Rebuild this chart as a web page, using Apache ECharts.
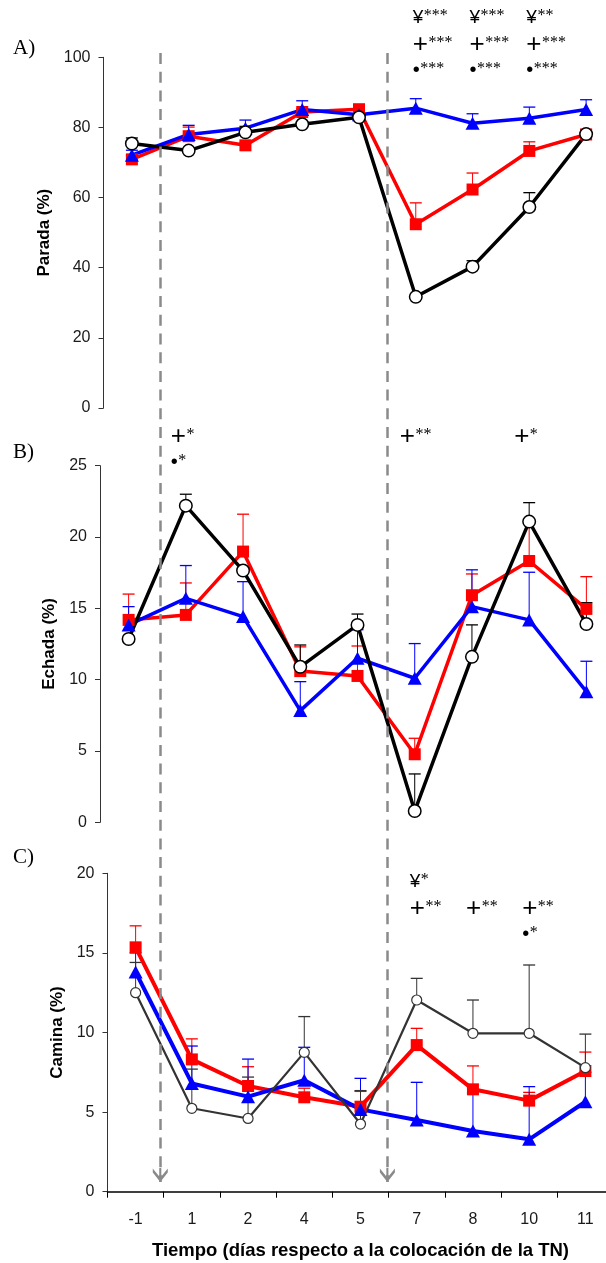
<!DOCTYPE html>
<html>
<head>
<meta charset="utf-8">
<script src="https://cdn.jsdelivr.net/npm/echarts@6/dist/echarts.min.js"></script>
<style>
html, body {margin: 0; padding: 0; background: #fff; overflow: hidden;}
#grafico {width: 640px; height: 1263px;}
</style>
</head>
<body>
<div id="grafico"></div>
<script>
var dias = ['-1', '1', '2', '4', '5', '7', '8', '10', '11'];
// colocacion de la TN: entre estos dias
var colocacionTN = [['-1', '1'], ['5', '7']];

// A) Parada (%)
var paradaNegro = [75.4, 73.4, 78.6, 80.9, 82.9, 31.7, 40.3, 57.3, 78.1];
var paradaNegroSup = [77.0, 73.4, 80.3, 80.9, 82.9, 31.7, 42.0, 61.4, 79.0];
var paradaRojo = [70.9, 77.5, 74.9, 84.4, 85.2, 52.4, 62.3, 73.3, 78.0];
var paradaRojoSup = [72.0, 80.1, 75.8, 85.3, 86.0, 58.5, 67.0, 75.9, 79.4];
var paradaAzul = [72.1, 78.0, 79.8, 85.1, 83.6, 85.5, 81.2, 82.6, 85.1];
var paradaAzulSup = [73.5, 80.6, 82.1, 87.6, 84.2, 88.2, 83.9, 85.8, 87.9];

// B) Echada (%)
var echadaNegro = [12.85, 22.2, 17.65, 10.9, 13.84, 0.79, 11.6, 21.08, 13.9];
var echadaNegroSup = [12.85, 23.0, 17.65, 12.43, 14.6, 3.39, 13.84, 22.41, 15.4];
var echadaRojo = [14.19, 14.54, 18.98, 10.6, 10.26, 4.77, 15.92, 18.32, 14.96];
var echadaRojoSup = [16.0, 16.78, 21.6, 12.3, 12.36, 5.89, 17.41, 21.0, 17.22];
var echadaAzul = [13.84, 15.7, 14.42, 7.83, 11.5, 10.1, 15.12, 14.19, 9.16];
var echadaAzulSup = [15.12, 18.0, 16.87, 9.86, 13.5, 12.53, 17.7, 17.53, 11.29];

// C) Camina (%)
var caminaNegro = [12.5, 5.24, 4.6, 8.75, 4.25, 12.04, 9.95, 9.95, 7.79];
var caminaNegroSup = [14.4, 7.7, 7.2, 11.0, 6.35, 13.4, 12.04, 14.24, 9.9];
var caminaRojo = [15.35, 8.31, 6.64, 5.93, 5.34, 9.21, 6.43, 5.72, 7.58];
var caminaRojoSup = [16.7, 9.6, 7.85, 6.5, 6.3, 10.26, 7.9, 6.24, 8.77];
var caminaAzul = [13.8, 6.8, 5.97, 7.0, 5.17, 4.5, 3.81, 3.29, 5.65];
var caminaAzulSup = [15.0, 9.15, 8.33, 9.07, 7.12, 6.87, 6.2, 6.6, 7.5];

// significacion: [dia, simbolo, asteriscos]
var sigParada = [['7', '¥', '***'], ['7', '+', '***'], ['7', '•', '***'],
    ['8', '¥', '***'], ['8', '+', '***'], ['8', '•', '***'],
    ['10', '¥', '**'], ['10', '+', '***'], ['10', '•', '***']];
var sigEchada = [['1', '+', '*'], ['1', '•', '*'], ['7', '+', '**'], ['10', '+', '*']];
var sigCamina = [['7', '¥', '*'], ['7', '+', '**'], ['8', '+', '**'], ['10', '+', '**'], ['10', '•', '*']];

var fuente = '"Liberation Sans", Arial, sans-serif';
var fuenteSerif = '"Liberation Serif", "Times New Roman", serif';

var paneles = [
    {left: 103.5, top: 57.3, width: 511, height: 350.7, max: 100, interval: 20, nombre: 'Parada (%)', gap: 50, letra: 'A)', letraTop: 38, sigY: 103.5, sigDx: -3},
    {left: 100, top: 465.7, width: 515, height: 356.6, max: 25, interval: 5, nombre: 'Echada (%)', gap: 42, letra: 'B)', letraTop: 442, sigY: 27.0, sigDx: -15},
    {left: 107.5, top: 873.3, width: 506, height: 318.4, max: 20, interval: 5, nombre: 'Camina (%)', gap: 41, letra: 'C)', letraTop: 847, sigY: 17.75, sigDx: -7}
];

var ctxMedida = document.createElement('canvas').getContext('2d');
function anchoTexto(txt, font) {
    ctxMedida.font = font;
    return ctxMedida.measureText(txt).width;
}

var simbolos = {
    '¥': {size: 19, dy: -27},
    '+': {size: 26, dy: 0},
    '•': {size: 20, dy: 25.5}
};

function barraError(datos, sup, color, idx) {
    return {
        type: 'custom', xAxisIndex: idx, yAxisIndex: idx, silent: true, z: 1,
        data: datos.map(function (v, i) { return [i, v, sup[i]]; }),
        renderItem: function (params, api) {
            var a = api.coord([api.value(0), api.value(1)]);
            var b = api.coord([api.value(0), api.value(2)]);
            if (b[1] > a[1] - 1) {
                return null;
            }
            return {
                type: 'group', children: [
                    {type: 'line', shape: {x1: a[0], y1: a[1], x2: b[0], y2: b[1]}, style: {stroke: color, lineWidth: 1}},
                    {type: 'line', shape: {x1: b[0] - 6, y1: b[1], x2: b[0] + 6, y2: b[1]}, style: {stroke: color, lineWidth: 1.3}}
                ]
            };
        }
    };
}

function linea(datos, idx, tipo) {
    var s = {
        type: 'line', xAxisIndex: idx, yAxisIndex: idx, data: datos, silent: true,
        showAllSymbol: true, z: 2
    };
    if (tipo === 'rojo') {
        s.symbol = 'rect'; s.symbolSize = 12;
        s.lineStyle = {color: '#ff0000', width: idx === 2 ? 4 : 3.5};
        s.itemStyle = {color: '#ff0000'};
    } else if (tipo === 'azul') {
        s.symbol = 'triangle'; s.symbolSize = [14, 13];
        s.lineStyle = {color: '#0000ff', width: idx === 2 ? 4 : 3.5};
        s.itemStyle = {color: '#0000ff'};
    } else {
        var gris = idx === 2 ? '#333333' : '#000000';
        s.symbol = 'circle'; s.symbolSize = idx === 2 ? 10 : 12.5;
        s.lineStyle = {color: gris, width: idx === 2 ? 2.2 : 3.5};
        s.itemStyle = {color: '#ffffff', borderColor: gris, borderWidth: idx === 2 ? 1.2 : 1.5};
    }
    return s;
}

function serieSig(lista, idx) {
    var p = paneles[idx];
    return {
        type: 'custom', xAxisIndex: idx, yAxisIndex: idx, silent: true, z: 8,
        data: lista.map(function (s) { return [s[0], p.sigY]; }),
        renderItem: function (params, api) {
            var s = lista[params.dataIndex];
            var c = api.coord([api.value(0), p.sigY]);
            var sim = simbolos[s[1]];
            var fMain = sim.size + 'px ' + fuente;
            var x = c[0] + p.sigDx;
            var y = c[1] + sim.dy;
            var w = anchoTexto(s[1], fMain);
            return {
                type: 'group', children: [
                    {type: 'text', x: x, y: y, style: {text: s[1], font: fMain, fill: '#000', align: 'left', verticalAlign: 'middle'}},
                    {type: 'text', x: x + w + 0.5, y: y - 2, style: {text: s[2], font: '16px ' + fuenteSerif, fill: '#000', align: 'left', verticalAlign: 'middle'}}
                ]
            };
        }
    };
}

var grafico = echarts.init(document.getElementById('grafico'), null, {renderer: 'canvas'});

var grids = paneles.map(function (p) {
    return {left: p.left, top: p.top, width: p.width, height: p.height, containLabel: false};
});
// rejilla auxiliar para las lineas de la TN (punta de flecha en y=1182)
grids.push({left: 103.5, top: 53, width: 511, height: 1129, containLabel: false});

var xAxes = paneles.map(function (p, i) {
    var ax = {
        gridIndex: i, type: 'category', data: dias, boundaryGap: true, show: i === 2
    };
    if (i === 2) {
        ax.axisLine = {show: true, lineStyle: {color: '#000', width: 1.5}};
        ax.axisTick = {show: true, length: 6, lineStyle: {color: '#000', width: 1}};
        ax.axisLabel = {fontFamily: fuente, fontSize: 16, color: '#1a1a1a', margin: 20};
        ax.name = 'Tiempo (días respecto a la colocación de la TN)';
        ax.nameLocation = 'middle';
        ax.nameGap = 50;
        ax.nameTextStyle = {fontFamily: fuente, fontSize: 18.5, fontWeight: 'bold', color: '#000'};
    }
    return ax;
});
xAxes.push({gridIndex: 3, type: 'value', min: -0.5, max: dias.length - 0.5, show: false});

var yAxes = paneles.map(function (p, i) {
    return {
        gridIndex: i, type: 'value', min: 0, max: p.max, interval: p.interval,
        name: p.nombre, nameLocation: 'middle', nameGap: p.gap, nameRotate: 90,
        nameTextStyle: {fontFamily: fuente, fontSize: 17, fontWeight: 'bold', color: '#000'},
        axisLine: {show: true, lineStyle: {color: '#333', width: 1}},
        axisTick: {show: true, length: 5, lineStyle: {color: '#333', width: 1}},
        axisLabel: {fontFamily: fuente, fontSize: 16, color: '#1a1a1a', margin: 13},
        splitLine: {show: false}
    };
});
yAxes.push({gridIndex: 3, type: 'value', min: 0, max: 1, show: false});

// punta abierta con el trazo central; la punta queda en el centro del simbolo
var flecha = 'path://M8,0 L8.01,0 L8,0.01 Z M8,14 L16,23.5 L16,27.5 L8,18.2 L0,27.5 L0,23.5 Z M6.9,14 L9.1,14 L9.1,28 L6.9,28 Z';

var series = [
    barraError(paradaRojo, paradaRojoSup, '#ff0000', 0),
    barraError(paradaAzul, paradaAzulSup, '#0000ff', 0),
    barraError(paradaNegro, paradaNegroSup, '#000000', 0),
    linea(paradaRojo, 0, 'rojo'),
    linea(paradaAzul, 0, 'azul'),
    linea(paradaNegro, 0, 'negro'),
    barraError(echadaRojo, echadaRojoSup, '#ff0000', 1),
    barraError(echadaAzul, echadaAzulSup, '#0000ff', 1),
    barraError(echadaNegro, echadaNegroSup, '#000000', 1),
    linea(echadaRojo, 1, 'rojo'),
    linea(echadaAzul, 1, 'azul'),
    linea(echadaNegro, 1, 'negro'),
    barraError(caminaRojo, caminaRojoSup, '#ff0000', 2),
    barraError(caminaAzul, caminaAzulSup, '#0000ff', 2),
    barraError(caminaNegro, caminaNegroSup, '#333333', 2),
    linea(caminaRojo, 2, 'rojo'),
    linea(caminaAzul, 2, 'azul'),
    linea(caminaNegro, 2, 'negro'),
    serieSig(sigParada, 0),
    serieSig(sigEchada, 1),
    serieSig(sigCamina, 2),
    {
        type: 'line', xAxisIndex: 3, yAxisIndex: 3, data: [], silent: true, z: 6,
        markLine: {
            silent: true, animation: false,
            symbol: ['none', flecha], symbolSize: [15, 28],
            label: {show: false},
            emphasis: {disabled: true},
            lineStyle: {color: '#8a8a8a', width: 2.5, type: [11, 7.7]},
            data: colocacionTN.map(function (par) {
                var x = (dias.indexOf(par[0]) + dias.indexOf(par[1])) / 2;
                return [{coord: [x, 1]}, {coord: [x, 0]}];
            })
        }
    }
];

var option = {
    animation: false,
    backgroundColor: '#ffffff',
    title: paneles.map(function (p) {
        return {text: p.letra, left: 13, top: p.letraTop, padding: 0,
            textStyle: {fontFamily: fuenteSerif, fontSize: 21, fontWeight: 'normal', color: '#000'}};
    }),
    grid: grids,
    xAxis: xAxes,
    yAxis: yAxes,
    series: series
};

grafico.setOption(option);
</script>
</body>
</html>
